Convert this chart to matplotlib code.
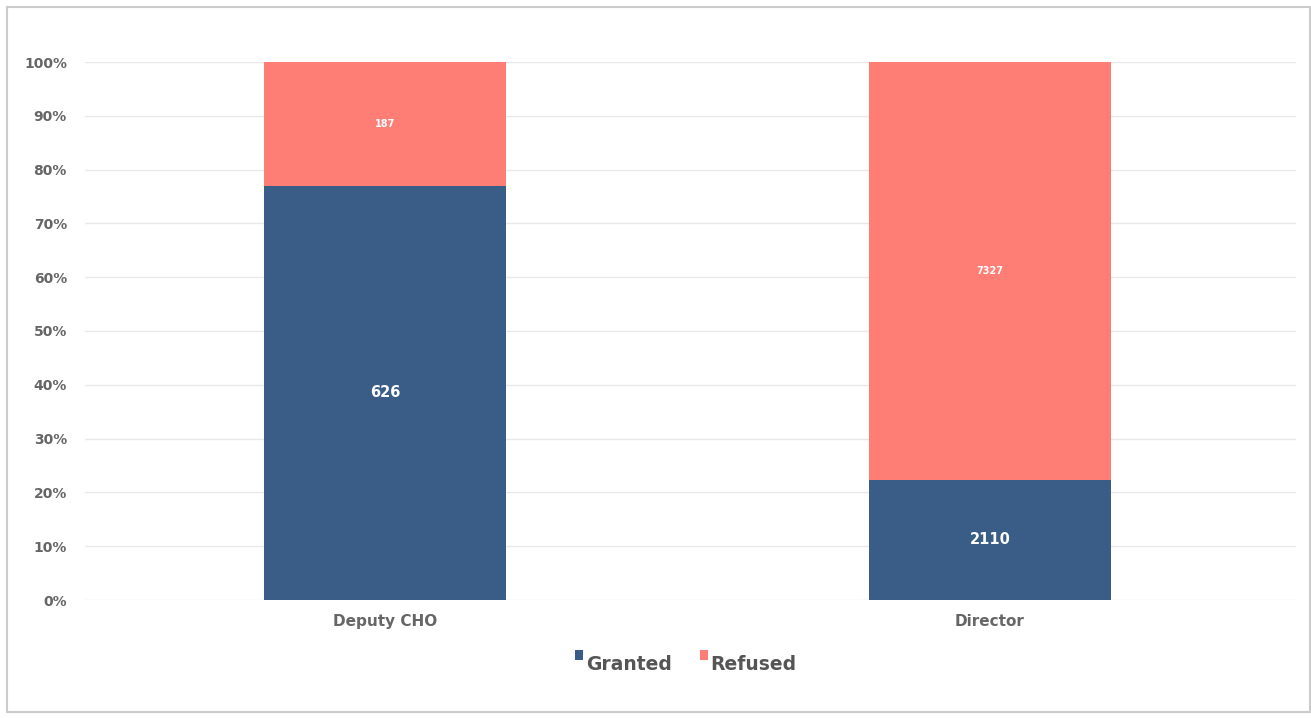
import matplotlib
matplotlib.use("Agg")
import matplotlib.pyplot as plt
from matplotlib.patches import Rectangle
from matplotlib.ticker import PercentFormatter

categories = ["Deputy CHO", "Director"]
granted = [626, 2110]
refused = [187, 7327]

blue = "#3a5d88"
salmon = "#fe7e76"
text_grey = "#666666"
font = "DejaVu Sans"

fig = plt.figure(figsize=(13.11, 7.18), dpi=100)
fig.patch.set_facecolor("white")
fig.patches.append(Rectangle((0.005, 0.008), 0.994, 0.982, transform=fig.transFigure,
                             fill=False, edgecolor="#cccccc", linewidth=1.5))

ax = fig.add_axes([85 / 1311, 1 - 600 / 718, (1296 - 85) / 1311, (600 - 62) / 718])

totals = [g + r for g, r in zip(granted, refused)]
g_pct = [g / t * 100 for g, t in zip(granted, totals)]
r_pct = [r / t * 100 for r, t in zip(refused, totals)]
x = list(range(len(categories)))

ax.bar(x, g_pct, width=0.4, color=blue, label="Granted", zorder=2)
ax.bar(x, r_pct, width=0.4, bottom=g_pct, color=salmon, label="Refused", zorder=2)

for xi, gp, rp, g, r in zip(x, g_pct, r_pct, granted, refused):
    ax.text(xi, gp / 2, str(g), ha="center", va="center", color="white",
            fontsize=10.5, fontweight="bold", family=font)
    ax.text(xi, gp + rp / 2, str(r), ha="center", va="center", color="white",
            fontsize=7, fontweight="bold", family=font)

ax.set_xlim(-0.496, 1.506)
ax.set_ylim(0, 100)
ax.set_yticks(range(0, 101, 10))
ax.yaxis.set_major_formatter(PercentFormatter(decimals=0))
ax.set_xticks(x)
ax.set_xticklabels(categories)
for lab in ax.get_yticklabels():
    lab.set_family(font)
    lab.set_fontweight("bold")
    lab.set_color(text_grey)
    lab.set_fontsize(10)
for lab in ax.get_xticklabels():
    lab.set_family(font)
    lab.set_fontweight("bold")
    lab.set_color(text_grey)
    lab.set_fontsize(11)
ax.tick_params(axis="y", length=0, pad=13)
ax.tick_params(axis="x", length=0, pad=10)
ax.grid(axis="y", color="#e8e8e8", linewidth=1, zorder=0)
for s in ax.spines.values():
    s.set_visible(False)

leg = fig.legend(loc="center", bbox_to_anchor=(686 / 1311, 1 - 664 / 718), ncol=2,
                 frameon=False, handlelength=0.42, handleheight=0.42, handletextpad=0.15,
                 columnspacing=1.5,
                 prop={"family": font, "weight": "bold", "size": 13.5})
for t in leg.get_texts():
    t.set_color("#555555")
for h in leg.legend_handles:
    h.set_y(7)

fig.savefig("out.png", dpi=100, facecolor="white")
